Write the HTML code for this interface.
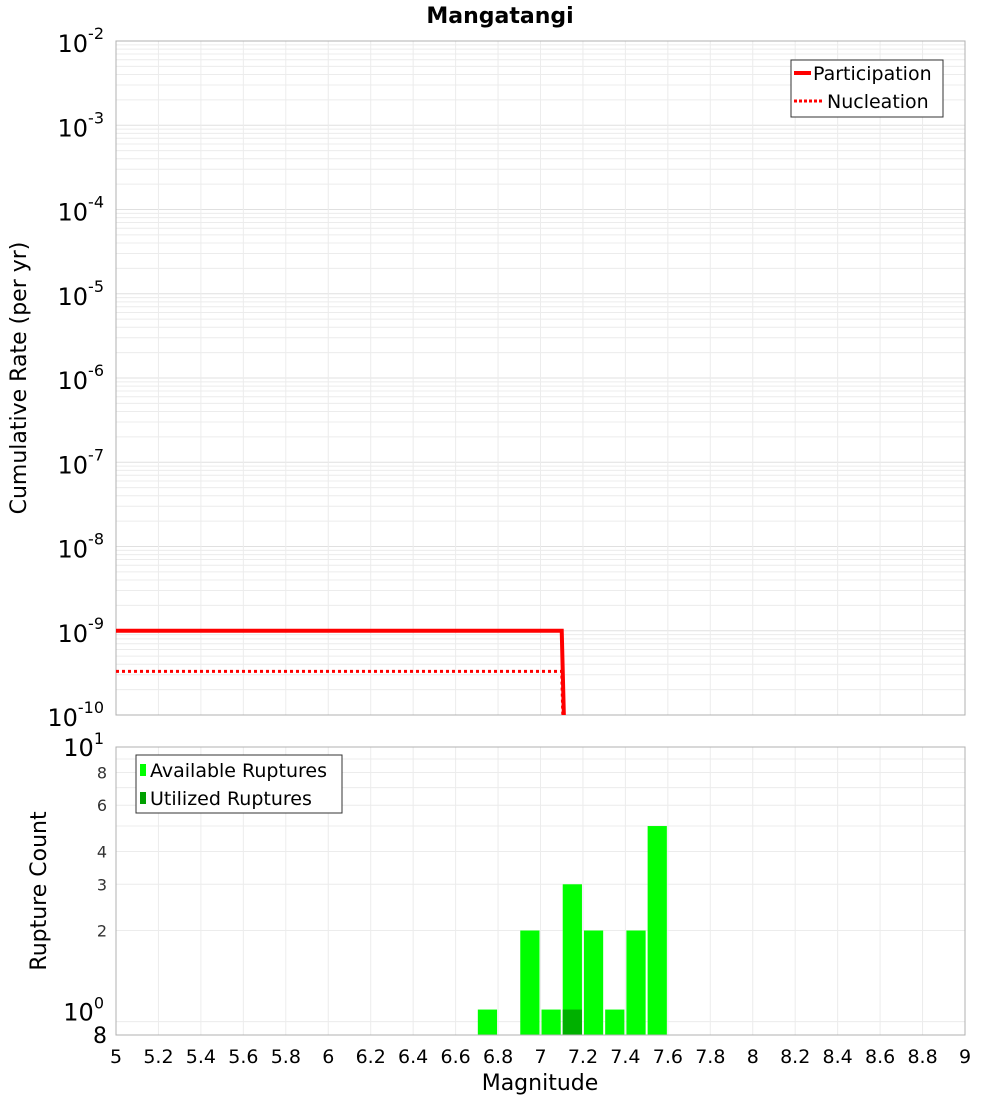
<!DOCTYPE html>
<html><head><meta charset="utf-8"><style>
body{margin:0;background:#fff;}
svg{display:block;font-family:"DejaVu Sans","Liberation Sans",sans-serif;}
</style></head><body>
<svg id="chart" width="1000" height="1100" viewBox="0 0 1000 1100" xmlns="http://www.w3.org/2000/svg">
<text x="500" y="23" text-anchor="middle" font-size="22" font-weight="bold">Mangatangi</text>
<g id="topg"></g><g id="botg"></g>
<text transform="translate(26,378) rotate(-90)" text-anchor="middle" font-size="22">Cumulative Rate (per yr)</text>
<text transform="translate(46,891) rotate(-90)" text-anchor="middle" font-size="22">Rupture Count</text>
<text x="540" y="1090" text-anchor="middle" font-size="22">Magnitude</text>
</svg>
<script>
const xTicks=[5,5.2,5.4,5.6,5.8,6,6.2,6.4,6.6,6.8,7,7.2,7.4,7.6,7.8,8,8.2,8.4,8.6,8.8,9];
const rateExps=[-2,-3,-4,-5,-6,-7,-8,-9,-10];
const partMag=[5,7.1,7.11];
const partRate=[1e-9,1e-9,1e-10];
const nuclMag=[5,7.1,7.105];
const nuclRate=[3.3e-10,3.3e-10,1e-10];
const binMag=[6.7,6.9,7.0,7.1,7.2,7.3,7.4,7.5];
const availCount=[1,2,1,3,2,1,2,5];
const utilMag=[7.1];
const utilCount=[1];
const countTicks=[8,6,4,3,2];

const NS="http://www.w3.org/2000/svg";
function mk(p,t,a,txt){const e=document.createElementNS(NS,t);for(const k in a)e.setAttribute(k,a[k]);if(txt!==undefined)e.textContent=txt;p.appendChild(e);return e;}
const X0=116,X1=965;
const x=m=>X0+(m-5)/4*(X1-X0);
const T0=41,T1=715;
const yT=v=>T0+(-2-Math.log10(v))/8*(T1-T0);
const B0=747,B1=1035;
const yB=v=>B0+(1-Math.log10(v))/(1-Math.log10(0.8))*(B1-B0);
const gTop=document.getElementById('topg'),gBot=document.getElementById('botg');

for(let e=-10;e<-2;e++)for(let k=2;k<=9;k++){const y=yT(k*Math.pow(10,e));
const l=mk(gTop,'line',{x1:X0,x2:X1,y1:y,y2:y,stroke:'#ececec','stroke-width':1});

}
for(const e of rateExps){const y=yT(Math.pow(10,e));
const l=mk(gTop,'line',{x1:X0,x2:X1,y1:y,y2:y,stroke:'#e0e0e0'});


const t=mk(gTop,'text',{x:104,y:y+11,'text-anchor':'end','font-size':24});


t.innerHTML='10<tspan dy="-13" font-size="16">'+e+'</tspan>';}
for(const m of xTicks){
const l=mk(gTop,'line',{x1:x(m),x2:x(m),y1:T0,y2:T1,stroke:'#ececec'});

}
const f1=mk(gTop,'rect',{x:X0,y:T0,width:X1-X0,height:T1-T0,fill:'none',stroke:'#b0b0b0'});


const pp=partMag.map((m,i)=>x(m)+','+yT(partRate[i])).join(' ');
const pl=mk(gTop,'polyline',{points:pp,fill:'none',stroke:'#ff0000','stroke-width':4});


const np=nuclMag.map((m,i)=>x(m)+','+yT(nuclRate[i])).join(' ');
const nl=mk(gTop,'polyline',{points:np,fill:'none',stroke:'#ff0000','stroke-width':3,'stroke-dasharray':'3,3'});


const lg=mk(gTop,'g',{});


mk(lg,'rect',{x:791,y:60,width:152,height:57,fill:'#fff',stroke:'#333'});
mk(lg,'line',{x1:794,x2:811,y1:73,y2:73,stroke:'#f00','stroke-width':4});
const le1=mk(lg,'text',{x:813,y:80,'font-size':19},'Participation');


mk(lg,'line',{x1:794,x2:822,y1:101,y2:101,stroke:'#f00','stroke-width':3,'stroke-dasharray':'3,2'});
const le2=mk(lg,'text',{x:827,y:108,'font-size':19},'Nucleation');



for(let k=2;k<=10;k++){const y=yB(k);
const l=mk(gBot,'line',{x1:X0,x2:X1,y1:y,y2:y,stroke:'#ececec'});

}
{const l=mk(gBot,'line',{x1:X0,x2:X1,y1:yB(0.9),y2:yB(0.9),stroke:'#ececec'});

}
for(const m of xTicks){
const l=mk(gBot,'line',{x1:x(m),x2:x(m),y1:B0,y2:B1,stroke:'#ececec'});


const t=mk(gBot,'text',{x:x(m),y:1063,'text-anchor':'middle','font-size':19},String(m));

}
for(const c of countTicks){
const t=mk(gBot,'text',{x:107,y:yB(c)+6,'text-anchor':'end','font-size':16,fill:'#333'},String(c));

}
{const t=mk(gBot,'text',{x:104,y:yB(10)+9,'text-anchor':'end','font-size':24});


t.innerHTML='10<tspan dy="-12" font-size="16">1</tspan>';}
{const t=mk(gBot,'text',{x:104,y:yB(1)+11,'text-anchor':'end','font-size':24});


t.innerHTML='10<tspan dy="-12" font-size="16">0</tspan>';}
{const t=mk(gBot,'text',{x:107,y:1043,'text-anchor':'end','font-size':22},'8');

}
binMag.forEach((m,i)=>{const y=yB(availCount[i]);
const r=mk(gBot,'rect',{x:x(m)+1,y:y,width:x(m+0.1)-x(m)-2,height:B1-y,fill:'#00ff00'});

});
utilMag.forEach((m,i)=>{const y=yB(utilCount[i]);
const r=mk(gBot,'rect',{x:x(m)+1,y:y,width:x(m+0.1)-x(m)-2,height:B1-y,fill:'#00b000'});

});
const f2=mk(gBot,'rect',{x:X0,y:B0,width:X1-X0,height:B1-B0,fill:'none',stroke:'#b0b0b0'});


const lg2=mk(gBot,'g',{});


mk(lg2,'rect',{x:136,y:755,width:206,height:58,fill:'#fff',stroke:'#333'});
mk(lg2,'rect',{x:140,y:764,width:6,height:12,fill:'#00ff00'});
const b1=mk(lg2,'text',{x:150,y:777,'font-size':19},'Available Ruptures');


mk(lg2,'rect',{x:140,y:792,width:6,height:12,fill:'#00a000'});
const b2=mk(lg2,'text',{x:150,y:805,'font-size':19},'Utilized Ruptures');


</script>
</body></html>
